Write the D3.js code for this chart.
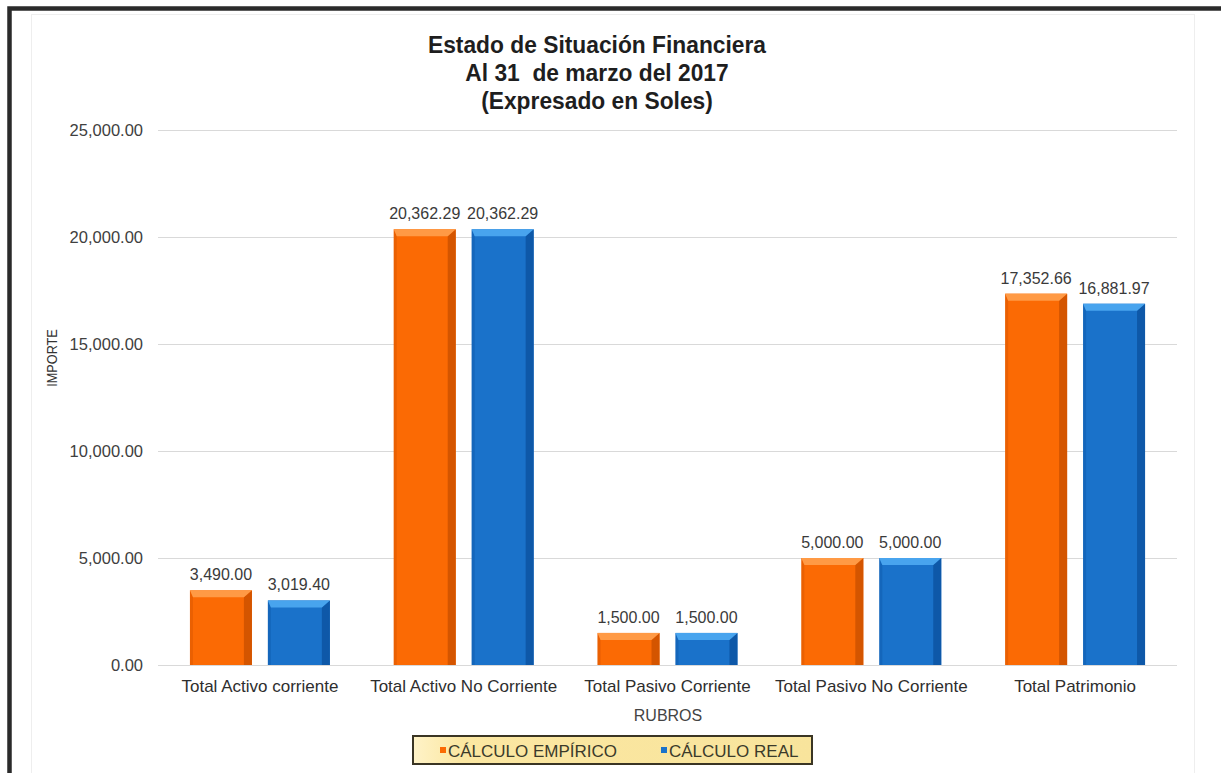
<!DOCTYPE html>
<html>
<head>
<meta charset="utf-8">
<script src="https://cdn.jsdelivr.net/npm/d3@7"></script>
<style>
  html, body { margin: 0; padding: 0; background: #fff; }
  svg { display: block; font-family: "Liberation Sans", Arial, sans-serif; }
</style>
</head>
<body>
<svg id="chart" width="1221" height="773"></svg>
<script>
// Rubros del estado de situación financiera
const categories = [
  "Total Activo corriente",
  "Total Activo No Corriente",
  "Total Pasivo Corriente",
  "Total Pasivo No Corriente",
  "Total Patrimonio"
];
const seriesNames = ["CÁLCULO EMPÍRICO", "CÁLCULO REAL"];
const empirico = [3490.00, 20362.29, 1500.00, 5000.00, 17352.66];
const real = [3019.40, 20362.29, 1500.00, 5000.00, 16881.97];
const yTicks = [0, 5000, 10000, 15000, 20000, 25000];
const titleLines = [
  "Estado de Situación Financiera",
  "Al 31  de marzo del 2017",
  "(Expresado en Soles)"
];

const palette = [
  { main: "#FB6A04", dark: "#D45500", light: "#FF9A45" },
  { main: "#1A72CA", dark: "#0E58A8", light: "#48A4EE" }
];

const svg = d3.select("#chart");
const fmt = d3.format(",.2f");

// Marco exterior
svg.append("rect")
  .attr("x", 9.5).attr("y", 8.5)
  .attr("width", 1400).attr("height", 1000)
  .attr("fill", "none").attr("stroke", "#2a2a2a").attr("stroke-width", 4.5);
svg.append("rect")
  .attr("x", 31.5).attr("y", 14.5)
  .attr("width", 1163).attr("height", 770)
  .attr("fill", "none").attr("stroke", "#eeeeee").attr("stroke-width", 1);

// Título (tipografía ligeramente condensada)
svg.append("g").selectAll("text")
  .data(titleLines)
  .join("text")
  .attr("transform", (d, i) => `translate(597,${53 + i * 28}) scale(0.95,1)`)
  .attr("text-anchor", "middle")
  .attr("font-size", 24)
  .attr("font-weight", "bold")
  .attr("fill", "#1e1e1e")
  .attr("xml:space", "preserve")
  .style("white-space", "pre")
  .text(d => d);

// Escalas
const plotLeft = 158, plotRight = 1177;
const y = d3.scaleLinear().domain([0, 25000]).range([665, 130]);
const x0 = d3.scaleBand().domain(categories).range([plotLeft, plotRight]).padding(0);
const x1 = d3.scaleBand().domain(seriesNames)
  .range([0, x0.bandwidth()]).paddingInner(0.205).paddingOuter(0.41);

// Líneas de cuadrícula
svg.append("g").selectAll("line")
  .data(yTicks)
  .join("line")
  .attr("x1", plotLeft).attr("x2", plotRight)
  .attr("y1", d => Math.round(y(d)) + 0.5)
  .attr("y2", d => Math.round(y(d)) + 0.5)
  .attr("stroke", "#d9d9d9").attr("stroke-width", 1);

// Eje Y
const yAxis = svg.append("g")
  .attr("transform", `translate(${plotLeft},0)`)
  .call(d3.axisLeft(y).tickValues(yTicks).tickFormat(fmt).tickSize(0).tickPadding(15));
yAxis.select(".domain").remove();
yAxis.selectAll("text")
  .attr("font-size", 16.5)
  .attr("fill", "#404040")
  .attr("font-family", "'Liberation Sans', Arial, sans-serif");

// Eje X
const xAxis = svg.append("g")
  .attr("transform", "translate(0,665)")
  .call(d3.axisBottom(x0).tickSize(0).tickPadding(15));
xAxis.select(".domain").remove();
xAxis.selectAll("text")
  .attr("font-size", 17)
  .attr("fill", "#2e2e2e")
  .attr("font-family", "'Liberation Sans', Arial, sans-serif");

// Títulos de ejes
svg.append("text")
  .attr("transform", "translate(57,358) rotate(-90) scale(0.82,1)")
  .attr("text-anchor", "middle")
  .attr("font-size", 15.5)
  .attr("fill", "#333")
  .text("IMPORTE");
svg.append("text")
  .attr("x", 668).attr("y", 721)
  .attr("text-anchor", "middle")
  .attr("font-size", 16)
  .attr("fill", "#444")
  .text("RUBROS");

// Barras con bisel
const rows = categories.map((c, i) => ({
  cat: c,
  vals: [empirico[i], real[i]].map((v, s) => ({ cat: c, s, name: seriesNames[s], v }))
}));

const groups = svg.append("g").selectAll("g")
  .data(rows)
  .join("g")
  .attr("transform", d => `translate(${x0(d.cat)},0)`);

const bars = groups.selectAll("g.bar")
  .data(d => d.vals)
  .join("g").attr("class", "bar");

bars.each(function (d) {
  const g = d3.select(this);
  const c = palette[d.s];
  const bx = x1(d.name), bw = x1.bandwidth();
  const top = y(d.v), base = y(0);
  const bevel = 7, side = 8;
  g.append("rect")
    .attr("x", bx).attr("y", top)
    .attr("width", bw).attr("height", base - top)
    .attr("fill", c.main);
  // lado derecho oscuro
  g.append("polygon")
    .attr("points", [
      [bx + bw - side, top + bevel], [bx + bw, top], [bx + bw, base], [bx + bw - side, base]
    ].map(p => p.join(",")).join(" "))
    .attr("fill", c.dark);
  // borde izquierdo
  g.append("polygon")
    .attr("points", [
      [bx, top], [bx + 3, top + bevel], [bx + 3, base], [bx, base]
    ].map(p => p.join(",")).join(" "))
    .attr("fill", c.dark).attr("opacity", 0.45);
  // bisel superior claro
  g.append("polygon")
    .attr("points", [
      [bx, top], [bx + bw, top], [bx + bw - side, top + bevel], [bx + 3, top + bevel]
    ].map(p => p.join(",")).join(" "))
    .attr("fill", c.light);
});

// Etiquetas de valores
bars.append("text")
  .attr("x", d => x1(d.name) + x1.bandwidth() / 2)
  .attr("y", d => y(d.v) - 10)
  .attr("text-anchor", "middle")
  .attr("font-size", 16)
  .attr("fill", "#3a3a3a")
  .text(d => fmt(d.v));

// Leyenda
const legend = svg.append("g");
const lgGrad = svg.append("defs").append("linearGradient")
  .attr("id", "lgfill").attr("x1", 0).attr("x2", 1).attr("y1", 0).attr("y2", 0);
lgGrad.append("stop").attr("offset", "0%").attr("stop-color", "#FFF3C8");
lgGrad.append("stop").attr("offset", "12%").attr("stop-color", "#FBE7A2");
lgGrad.append("stop").attr("offset", "100%").attr("stop-color", "#F8E49C");
legend.append("rect")
  .attr("x", 413).attr("y", 736)
  .attr("width", 399).attr("height", 28)
  .attr("fill", "url(#lgfill)")
  .attr("stroke", "#3a3524").attr("stroke-width", 2);

const legendX = [440, 661];
const items = legend.selectAll("g")
  .data(seriesNames)
  .join("g")
  .attr("transform", (d, i) => `translate(${legendX[i]},0)`);
items.append("rect")
  .attr("x", 0).attr("y", 747)
  .attr("width", 6).attr("height", 6)
  .attr("fill", (d, i) => palette[i].main);
items.append("text")
  .attr("x", 8).attr("y", 757)
  .attr("font-size", 17)
  .attr("fill", "#3b3a2a")
  .text(d => d);
</script>
</body>
</html>
